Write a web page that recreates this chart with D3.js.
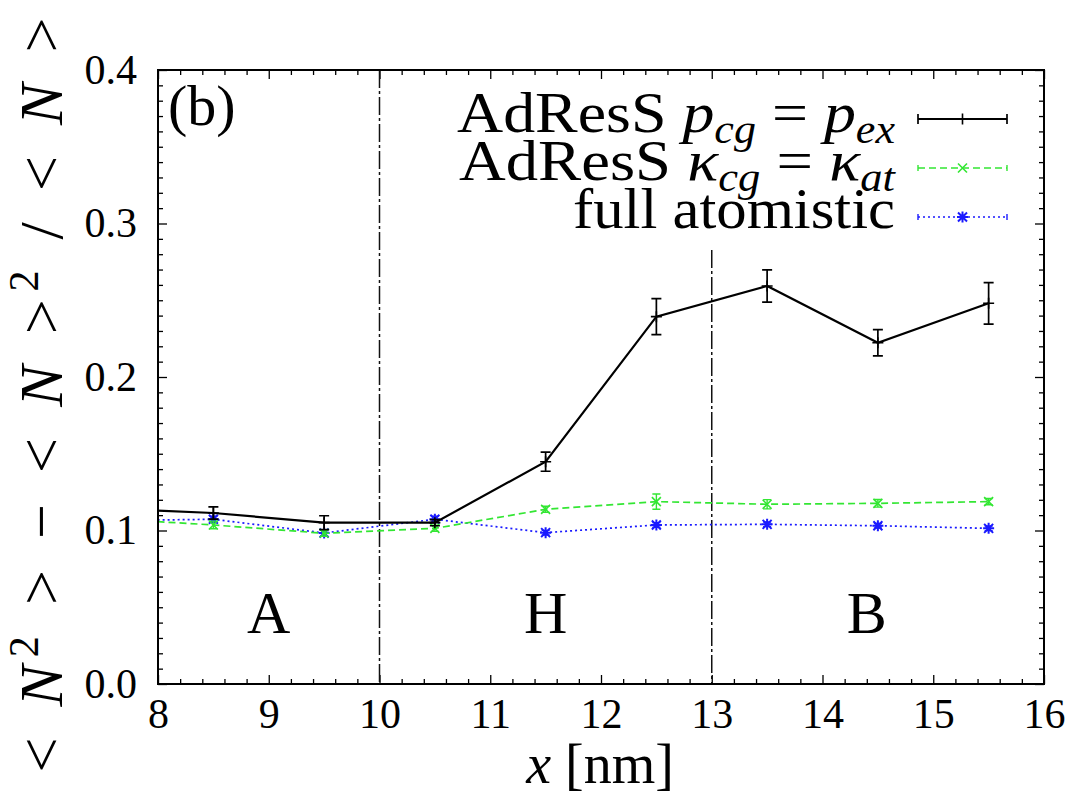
<!DOCTYPE html>
<html>
<head>
<meta charset="utf-8">
<script src="https://cdn.jsdelivr.net/npm/d3@7"></script>
<style>
  html, body { margin: 0; padding: 0; background: #fff; }
  svg { display: block; }
</style>
</head>
<body>
<svg id="chart" width="1079" height="795"></svg>
<script>
// Position along the box (nm); the 7.5 nm samples lie left of the visible window
const positions = [7.5, 8.5, 9.5, 10.5, 11.5, 12.5, 13.5, 14.5, 15.5];

// AdResS with p_cg = p_ex
const pcgValues = [0.1144, 0.1114, 0.1051, 0.1051, 0.1448, 0.2393, 0.2593, 0.2223, 0.2480];
const pcgErrors = [0.0040, 0.0040, 0.0045, 0.0020, 0.0062, 0.0117, 0.0105, 0.0085, 0.0135];

// AdResS with kappa_cg = kappa_at
const kappaValues = [0.1079, 0.1036, 0.0982, 0.1014, 0.1138, 0.1188, 0.1171, 0.1177, 0.1188];
const kappaErrors = [0.0020, 0.0025, 0.0020, 0.0020, 0.0020, 0.0050, 0.0030, 0.0025, 0.0020];

// Full atomistic reference
const atomValues = [0.1064, 0.1073, 0.0984, 0.1073, 0.0986, 0.1036, 0.1040, 0.1031, 0.1014];
const atomErrors = [0.0020, 0.0020, 0.0020, 0.0020, 0.0015, 0.0015, 0.0015, 0.0015, 0.0015];

// Axis ticks
const xTicks = [8, 9, 10, 11, 12, 13, 14, 15, 16];
const yTicks = [0.0, 0.1, 0.2, 0.3, 0.4];

// Region boundaries and region names
const boundaries = [10, 13];
const regionNames = ["A", "H", "B"];
const regionCenters = [9, 11.5, 14.4];

(function () {
const SERIF = "'Liberation Serif', 'DejaVu Serif', serif";
const svg = d3.select("#chart");
const pLeft = 158, pRight = 1044, pTop = 70, pBottom = 684;

const x = d3.scaleLinear().domain([8, 16]).range([pLeft, pRight]);
const y = d3.scaleLinear().domain([0, 0.4]).range([pBottom, pTop]);

svg.append("defs").append("clipPath").attr("id", "plotClip")
  .append("rect")
  .attr("x", pLeft).attr("y", pTop)
  .attr("width", pRight - pLeft).attr("height", pBottom - pTop);

// ---- ticks on all four sides (pointing inward) ----
const minorX = d3.range(8, 16.001, 0.2).filter(v => Math.abs(v - Math.round(v)) > 1e-6);
const minorY = d3.range(0, 0.4001, 0.01).filter(v => Math.abs(v * 10 - Math.round(v * 10)) > 1e-6);

function styleAxis(g) {
  g.select(".domain").remove();
  g.selectAll(".tick line").attr("stroke", "#000").attr("stroke-width", 1.3);
  g.selectAll("text").style("font-family", SERIF).style("font-size", "42px").attr("fill", "#000");
}

svg.append("g").attr("transform", `translate(0,${pBottom})`)
  .call(d3.axisBottom(x).tickValues(xTicks).tickSize(-9).tickPadding(14).tickFormat(d3.format("d")))
  .call(styleAxis);
svg.append("g").attr("transform", `translate(0,${pBottom})`)
  .call(d3.axisBottom(x).tickValues(minorX).tickSize(-5).tickFormat(""))
  .call(styleAxis);

svg.append("g").attr("transform", `translate(0,${pTop})`)
  .call(d3.axisTop(x).tickValues(xTicks).tickSize(-9).tickFormat(""))
  .call(styleAxis);
svg.append("g").attr("transform", `translate(0,${pTop})`)
  .call(d3.axisTop(x).tickValues(minorX).tickSize(-5).tickFormat(""))
  .call(styleAxis);

svg.append("g").attr("transform", `translate(${pLeft},0)`)
  .call(d3.axisLeft(y).tickValues(yTicks).tickSize(-9).tickPadding(21).tickFormat(d3.format(".1f")))
  .call(styleAxis);
svg.append("g").attr("transform", `translate(${pLeft},0)`)
  .call(d3.axisLeft(y).tickValues(minorY).tickSize(-5).tickFormat(""))
  .call(styleAxis);

svg.append("g").attr("transform", `translate(${pRight},0)`)
  .call(d3.axisRight(y).tickValues(yTicks).tickSize(-9).tickFormat(""))
  .call(styleAxis);
svg.append("g").attr("transform", `translate(${pRight},0)`)
  .call(d3.axisRight(y).tickValues(minorY).tickSize(-5).tickFormat(""))
  .call(styleAxis);

// ---- region boundaries ----
const boundaryTop = [pTop, 250];
svg.append("g").selectAll("line").data(boundaries).join("line")
  .attr("x1", d => x(d)).attr("x2", d => x(d))
  .attr("y1", (d, i) => boundaryTop[i]).attr("y2", pBottom)
  .attr("stroke", "#111").attr("stroke-width", 1.5)
  .attr("stroke-dasharray", "18,3,3,3");

// region names
svg.append("g").selectAll("text").data(regionNames).join("text")
  .attr("x", (d, i) => x(regionCenters[i])).attr("y", 633)
  .attr("text-anchor", "middle")
  .style("font-family", SERIF).style("font-size", "60px")
  .text(d => d);

// ---- series ----
const series = [
  { values: pcgValues, errors: pcgErrors, color: "#000", width: 2.2, dash: null, marker: "plus", cap: 5, lw: 1.7 },
  { values: kappaValues, errors: kappaErrors, color: "#33e633", width: 1.7, dash: "7,4", marker: "cross", cap: 4, lw: 1.4 },
  { values: atomValues, errors: atomErrors, color: "#1a1aff", width: 1.7, dash: "2,3", marker: "star", cap: 4, lw: 1.4 }
];

function markerPath(type, cx, cy) {
  const p = d3.path();
  const s = 5.5, c = 4.5;
  if (type === "plus" || type === "star") {
    p.moveTo(cx - s, cy); p.lineTo(cx + s, cy);
    p.moveTo(cx, cy - s); p.lineTo(cx, cy + s);
  }
  if (type === "cross" || type === "star") {
    p.moveTo(cx - c, cy - c); p.lineTo(cx + c, cy + c);
    p.moveTo(cx - c, cy + c); p.lineTo(cx + c, cy - c);
  }
  return p.toString();
}

const plot = svg.append("g").attr("clip-path", "url(#plotClip)");
const line = d3.line().x(d => x(d[0])).y(d => y(d[1]));

// draw in reverse so the black curve ends up on top
series.slice().reverse().forEach(s => {
  const pts = positions.map((p, i) => [p, s.values[i], s.errors[i]]);
  const g = plot.append("g");
  g.append("path").datum(pts)
    .attr("d", line).attr("fill", "none")
    .attr("stroke", s.color).attr("stroke-width", s.width)
    .attr("stroke-dasharray", s.dash);
  // error bars
  g.selectAll(".eb").data(pts).join("path")
    .attr("d", d => {
      const p = d3.path();
      const cx = x(d[0]), y1 = y(d[1] + d[2]), y2 = y(d[1] - d[2]);
      p.moveTo(cx, y1); p.lineTo(cx, y2);
      p.moveTo(cx - s.cap, y1); p.lineTo(cx + s.cap, y1);
      p.moveTo(cx - s.cap, y2); p.lineTo(cx + s.cap, y2);
      return p.toString();
    })
    .attr("fill", "none").attr("stroke", s.color).attr("stroke-width", s.lw);
  // markers
  g.selectAll(".mk").data(pts).join("path")
    .attr("d", d => markerPath(s.marker, x(d[0]), y(d[1])))
    .attr("fill", "none").attr("stroke", s.color).attr("stroke-width", s.marker === "star" ? 2 : 1.6);
});

// ---- frame ----
svg.append("rect")
  .attr("x", pLeft).attr("y", pTop).attr("width", pRight - pLeft).attr("height", pBottom - pTop)
  .attr("fill", "none").attr("stroke", "#000").attr("stroke-width", 2);

// ---- panel tag ----
svg.append("text").attr("x", 168).attr("y", 125)
  .style("font-family", SERIF).style("font-size", "58px").text("(b)");

// ---- legend ----
const legendRows = [
  { y: 119, base: 132, width: 438, parts: [["AdResS ", ""], ["p", "i"], ["cg", "sub"], [" = ", ""], ["p", "i"], ["ex", "sub"]] },
  { y: 168, base: 180, width: 436, parts: [["AdResS ", ""], ["κ", "i"], ["cg", "sub"], [" = ", ""], ["κ", "i"], ["at", "sub"]] },
  { y: 217, base: 228, width: 322, parts: [["full atomistic", ""]] }
];
const legend = svg.append("g");
legendRows.forEach((row, r) => {
  const t = legend.append("text").attr("x", 895).attr("y", row.base)
    .attr("text-anchor", "end")
    .attr("textLength", row.width).attr("lengthAdjust", "spacingAndGlyphs")
    .style("font-family", SERIF).style("font-size", "58px");
  let shifted = false;
  row.parts.forEach(([str, kind]) => {
    const ts = t.append("tspan").text(str);
    if (kind === "i") ts.style("font-style", "italic");
    if (kind === "sub") {
      ts.style("font-style", "italic").style("font-size", "40px").attr("dy", 11);
      shifted = true;
    } else if (shifted) {
      ts.attr("dy", -11);
      shifted = false;
    }
  });
  const s = series[r];
  const x1 = 918, x2 = 1007, xm = (x1 + x2) / 2;
  legend.append("line").attr("x1", x1).attr("x2", x2).attr("y1", row.y).attr("y2", row.y)
    .attr("stroke", s.color).attr("stroke-width", s.width).attr("stroke-dasharray", s.dash);
  const capH = r === 0 ? 5 : 3;
  [x1, x2].forEach(cx => legend.append("line")
    .attr("x1", cx).attr("x2", cx).attr("y1", row.y - capH).attr("y2", row.y + capH)
    .attr("stroke", s.color).attr("stroke-width", s.lw));
  legend.append("path").attr("d", markerPath(s.marker, xm, row.y))
    .attr("fill", "none").attr("stroke", s.color).attr("stroke-width", s.marker === "star" ? 2 : 1.6);
});

// ---- axis titles ----
const xt = svg.append("text").attr("x", 600).attr("y", 783)
  .attr("text-anchor", "middle")
  .style("font-family", SERIF).style("font-size", "56px");
xt.append("tspan").style("font-style", "italic").text("x");
xt.append("tspan").text(" [nm]");

const yt = svg.append("text")
  .attr("transform", "translate(62,395) rotate(-90)")
  .attr("text-anchor", "middle")
  .attr("textLength", 755).attr("lengthAdjust", "spacing")
  .style("font-family", SERIF).style("font-size", "62px");
const yParts = [["< ", ""], ["N", "i"], ["2", "sup"], [" > − < ", ""], ["N", "i"], [" >", ""], ["2", "sup"], [" / < ", ""], ["N", "i"], [" >", ""]];
let up = false;
yParts.forEach(([str, kind]) => {
  const ts = yt.append("tspan").text(str);
  if (kind === "i") ts.style("font-style", "italic");
  if (kind === "sup") { ts.style("font-size", "42px").attr("dy", -24); up = true; }
  else if (up) { ts.attr("dy", 24); up = false; }
});
})();
</script>
</body>
</html>
